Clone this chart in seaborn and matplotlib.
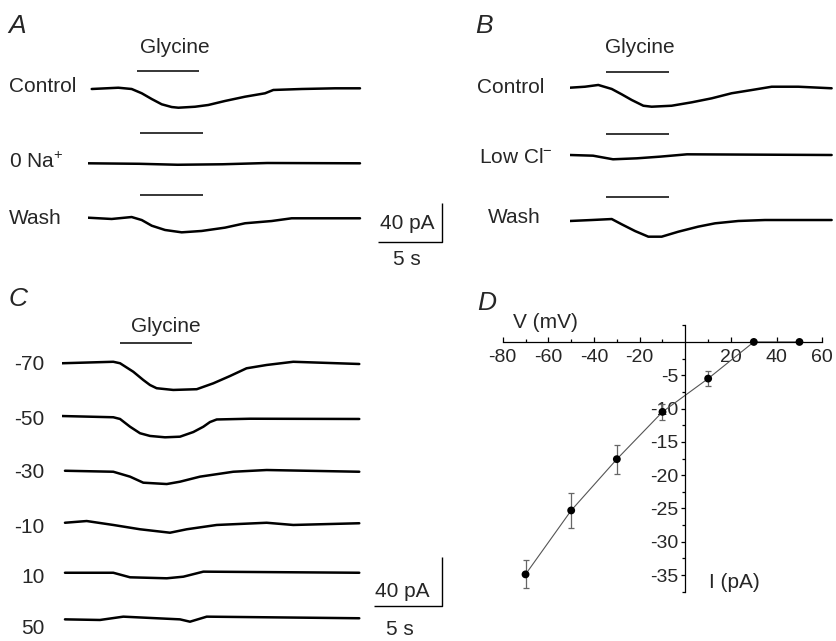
import numpy as np
import pandas as pd
import matplotlib
matplotlib.use("Agg")
import matplotlib.pyplot as plt
import seaborn as sns

# ---------------- data (time in s, current in pA relative to baseline) ----------------
# Panel A
A_CTRL_T = [0.29, 2.37, 3.41, 4.20, 4.98, 5.76, 6.54, 7.06, 8.36, 9.40, 10.70, 12.27, 13.83, 14.48, 16.70, 19.30, 21.25]
A_CTRL_I = [-0.3, 1.0, -0.3, -4.7, -10.6, -16.0, -18.8, -19.5, -18.5, -16.7, -12.6, -8.2, -4.7, -1.3, -0.3, 0.4, 0.4]
A_NA_T = [0.0, 4.0, 7.0, 10.5, 14.0, 21.25]
A_NA_I = [0.0, -0.5, -1.5, -1.0, 0.3, 0.0]
A_WASH_T = [0.02, 1.85, 3.41, 4.20, 4.98, 6.02, 7.32, 8.88, 10.70, 12.27, 14.35, 15.91, 21.25]
A_WASH_I = [0.3, -1.0, 1.0, -2.1, -7.9, -12.3, -14.7, -13.3, -9.9, -5.4, -3.1, -0.3, -0.3]
A_LABELS = ["Control", r"0 Na$^{\mathregular{+}}$", "Wash"]
A_GLY = [[3.83, 8.67], [4.06, 8.98], [4.06, 8.98]]

# Panel B
B_CTRL_T = [0.0, 1.17, 2.21, 3.26, 4.04, 4.82, 5.73, 6.38, 7.94, 9.51, 11.07, 12.63, 14.19, 15.76, 17.84, 20.44]
B_CTRL_I = [-0.2, 0.8, 2.6, -1.5, -7.0, -12.8, -18.7, -19.7, -18.7, -15.2, -11.1, -5.9, -2.6, 0.8, 0.8, -0.8]
B_LOWCL_T = [0.0, 1.80, 3.36, 5.23, 7.03, 9.14, 20.44]
B_LOWCL_I = [0.0, -0.7, -4.4, -3.4, -1.7, 0.7, 0.0]
B_WASH_T = [0.0, 1.70, 3.26, 4.04, 5.08, 6.12, 7.16, 8.46, 10.02, 11.33, 13.15, 15.23, 20.44]
B_WASH_I = [-0.5, 0.5, 1.5, -3.9, -10.8, -16.6, -16.6, -11.5, -6.3, -2.9, -0.5, 0.5, 0.5]
B_LABELS = ["Control", r"Low Cl$^{\mathregular{-}}$", "Wash"]
B_GLY = [2.81, 7.73]

# Panel C (holding potentials in mV)
C_VH = ["-70", "-50", "-30", "-10", "10", "50"]
C_T = [
    [0, 3.80, 4.30, 5.28, 6.02, 6.52, 7.01, 8.24, 9.98, 11.21, 12.44, 13.67, 15.16, 17.13, 22.02],
    [0, 3.80, 4.30, 5.04, 5.78, 6.52, 7.63, 8.74, 9.73, 10.47, 10.96, 11.46, 13.93, 22.02],
    [0.22, 3.80, 5.04, 6.02, 7.76, 8.74, 10.22, 12.69, 15.16, 22.02],
    [0.22, 1.83, 3.80, 5.78, 8.00, 9.24, 11.46, 15.16, 17.13, 22.02],
    [0.22, 3.80, 5.04, 7.76, 8.99, 10.47, 22.02],
    [0.22, 2.81, 4.54, 8.74, 9.48, 10.72, 22.02],
]
C_I = [
    [0.2, 1.4, 0.2, -6.7, -13.4, -17.5, -20.1, -21.5, -20.9, -16.1, -10.2, -3.9, -1.2, 1.4, -0.4],
    [1.2, 0.2, -1.2, -7.5, -12.8, -15.0, -16.1, -15.6, -11.8, -7.5, -3.7, -1.6, -1.0, -1.2],
    [0.2, -0.6, -4.6, -9.5, -10.6, -8.7, -4.6, -0.6, 0.8, -0.6],
    [0.2, 1.6, -1.6, -5.1, -7.9, -5.1, -1.6, 0.2, -1.6, -0.2],
    [0.2, 0.2, -3.5, -4.3, -3.0, 1.1, 0.2],
    [-0.7, -1.2, 1.5, -0.7, -2.6, 1.5, 0.2],
]
C_GLY = [4.30, 9.63]

# Panel D (I-V relation)
D_V = [-70, -50, -30, -10, 10, 30, 50]
D_I = [-34.9, -25.3, -17.6, -10.5, -5.5, 0.0, 0.0]
D_ERR = [2.1, 2.65, 2.2, 1.2, 1.15, 0.0, 0.0]
D_XTICKS = [-80, -60, -40, -20, 20, 40, 60]
D_YTICKS = [-35, -30, -25, -20, -15, -10, -5]

SCALE_T = 5.0    # s
SCALE_I = 40.0   # pA

# ---------------- styling ----------------
sns.set_theme(style="white")
plt.rcParams["font.family"] = ["Liberation Sans", "DejaVu Sans"]
plt.rcParams["mathtext.fontset"] = "custom"
plt.rcParams["mathtext.rm"] = "Liberation Sans"
plt.rcParams["mathtext.it"] = "Liberation Sans:italic"
plt.rcParams["axes.unicode_minus"] = False

W, H = 837, 641
fig = plt.figure(figsize=(W / 100, H / 100), dpi=100)
fig.patch.set_facecolor("white")

FS = 15
TRACE_LW = 1.8


def add_ax(x0, y0, x1, y1):
    return fig.add_axes([x0 / W, 1 - y1 / H, (x1 - x0) / W, (y1 - y0) / H])


def ftext(x, y, s, **kw):
    kw.setdefault("fontsize", FS)
    kw.setdefault("va", "baseline")
    fig.text(x / W, 1 - y / H, s, **kw)


def trace(ax, t, i, off):
    df = pd.DataFrame({"t": t, "i": np.asarray(i) + off})
    sns.lineplot(data=df, x="t", y="i", ax=ax, color="black", lw=TRACE_LW,
                 estimator=None, sort=False, solid_joinstyle="round")


def hline(ax, x0, x1, y, lw=1.1):
    ax.plot([x0, x1], [y, y], color="black", lw=lw, solid_capstyle="butt")


def scalebar(ax, t_right, y_bottom):
    ax.plot([t_right - SCALE_T, t_right, t_right],
            [y_bottom, y_bottom, y_bottom + SCALE_I],
            color="black", lw=1.0, solid_capstyle="butt")


# ---------------- Panel A ----------------
pxs_ab, pxi_ab = 12.8, 0.975   # px per s, px per pA
axA = add_ax(88, 60, 450, 250)
axA.set_xlim(0, 362 / pxs_ab)
axA.set_ylim(-190 / pxi_ab, 0)
axA.axis("off")
offA = [-(88.7 - 60) / pxi_ab, -(163.3 - 60) / pxi_ab, -(218 - 60) / pxi_ab]
barA = [-(70.7 - 60) / pxi_ab, -(133.3 - 60) / pxi_ab, -(195.3 - 60) / pxi_ab]
for (t, i), off, by, g in zip([(A_CTRL_T, A_CTRL_I), (A_NA_T, A_NA_I), (A_WASH_T, A_WASH_I)],
                              offA, barA, A_GLY):
    trace(axA, t, i, off)
    hline(axA, g[0], g[1], by)
scalebar(axA, (442.3 - 88) / pxs_ab, -(241.7 - 60) / pxi_ab)

ftext(8, 33, "A", fontsize=19, style="italic")
ftext(175, 53, "Glycine", ha="center")
for lab, yb in zip(A_LABELS, [91.7, 168.3, 224]):
    ftext(9, yb, lab)
ftext(380, 229.3, "40 pA")
ftext(406.7, 265, "5 s", ha="center")

# ---------------- Panel B ----------------
axB = add_ax(570, 60, 837, 250)
axB.set_xlim(0, 267 / pxs_ab)
axB.set_ylim(-190 / pxi_ab, 0)
axB.axis("off")
offB = [-(87.5 - 60) / pxi_ab, -(155 - 60) / pxi_ab, -(220.5 - 60) / pxi_ab]
barB = [-(71.7 - 60) / pxi_ab, -(134.3 - 60) / pxi_ab, -(196.7 - 60) / pxi_ab]
for (t, i), off, by in zip([(B_CTRL_T, B_CTRL_I), (B_LOWCL_T, B_LOWCL_I), (B_WASH_T, B_WASH_I)],
                           offB, barB):
    trace(axB, t, i, off)
    hline(axB, B_GLY[0], B_GLY[1], by)

ftext(475, 33, "B", fontsize=19, style="italic")
ftext(640, 52.7, "Glycine", ha="center")
for lab, xl, yb in zip(B_LABELS, [477, 479, 488], [92.7, 163.3, 223.3]):
    ftext(xl, yb, lab)

# ---------------- Panel C ----------------
pxs_c, pxi_c = 13.5, 1.23
axC = add_ax(62, 300, 450, 641)
axC.set_xlim(0, 388 / pxs_c)
axC.set_ylim(-341 / pxi_c, 0)
axC.axis("off")
baseC = [363.5, 417.5, 471, 523, 573, 618.5]
for t, i, b in zip(C_T, C_I, baseC):
    trace(axC, t, i, -(b - 300) / pxi_c)
hline(axC, C_GLY[0], C_GLY[1], -(343.3 - 300) / pxi_c)
scalebar(axC, (441.7 - 62) / pxs_c, -(606 - 300) / pxi_c)

ftext(9, 306, "C", fontsize=19, style="italic")
ftext(166, 331.7, "Glycine", ha="center")
for lab, yb in zip(C_VH, [370, 425, 477.7, 533.3, 583.3, 634.3]):
    ftext(44.5, yb, lab, ha="right")
ftext(375, 596.7, "40 pA")
ftext(400, 635, "5 s", ha="center")

# ---------------- Panel D ----------------
axD = add_ax(502.7, 325.3, 822.3, 591.7)
axD.set_xlim(-80, 60)
axD.set_ylim(-37.5, 2.5)
axD.set_facecolor("none")
for s in ["top", "right"]:
    axD.spines[s].set_visible(False)
axD.spines["left"].set_position(("data", 0))
axD.spines["bottom"].set_position(("data", 0))
for s in ["left", "bottom"]:
    axD.spines[s].set_color("black")
    axD.spines[s].set_linewidth(0.9)
axD.set_xticks(D_XTICKS)
axD.set_xticklabels([str(v) for v in D_XTICKS])
axD.set_xticks([v + 10 for v in D_XTICKS[:3]] + [-10, 10] + [v + 10 for v in D_XTICKS[4:6]], minor=True)
axD.set_yticks(D_YTICKS)
axD.set_yticklabels([str(v) for v in D_YTICKS])
axD.set_yticks([v - 2.5 for v in D_YTICKS] + [-2.5, 2.5], minor=True)
axD.tick_params(axis="x", which="both", direction="in", labelsize=14, pad=5,
                color="black", bottom=True)
axD.tick_params(axis="x", which="major", length=3.5, width=0.9)
axD.tick_params(axis="x", which="minor", length=2.2, width=0.9)
axD.tick_params(axis="y", which="both", direction="out", labelsize=14, pad=2,
                color="black", left=True)
axD.tick_params(axis="y", which="major", length=3.0, width=0.9)
axD.tick_params(axis="y", which="minor", length=2.2, width=0.9)
axD.grid(False)

dfD = pd.DataFrame({"V": D_V, "I": D_I, "err": D_ERR})
sns.lineplot(data=dfD, x="V", y="I", ax=axD, color="#555555", lw=0.8,
             estimator=None, sort=False, zorder=2)
errD = dfD[dfD["err"] > 0]
axD.errorbar(errD["V"], errD["I"], yerr=errD["err"], fmt="none",
             ecolor="#666666", elinewidth=0.9, capsize=2.2, capthick=0.9, zorder=2)
sns.scatterplot(data=dfD, x="V", y="I", ax=axD, color="black", s=32,
                edgecolor="none", zorder=4, clip_on=False)
axD.set_xlabel("")
axD.set_ylabel("")

ftext(477, 310, "D", fontsize=19, style="italic")
ftext(513, 328.3, "V (mV)")
ftext(709, 588.3, "I (pA)")

fig.savefig("out.png", dpi=100, facecolor="white")
